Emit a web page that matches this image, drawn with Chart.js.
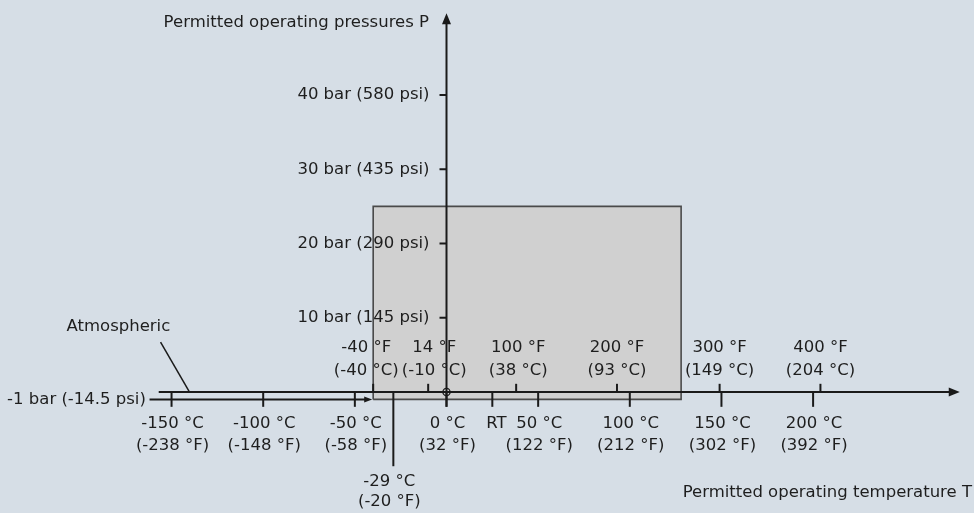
<!DOCTYPE html>
<html>
<head>
<meta charset="utf-8">
<script src="https://cdn.jsdelivr.net/npm/chart.js@4.4.0/dist/chart.umd.min.js"></script>
<style>
  html, body { margin: 0; padding: 0; background: #d6dee6; }
  canvas { display: block; }
</style>
</head>
<body>
<canvas id="myChart" width="974" height="513"></canvas>
<script>
// permitted operating range (°C / bar)
const rangeTemp = [-40, 128]
const rangePressure = [-1, 25]

// pressure axis ticks
const pressureTicks = [10, 20, 30, 40]
const pressureLabels = ['10 bar (145 psi)', '20 bar (290 psi)', '30 bar (435 psi)', '40 bar (580 psi)']

// temperature ticks in °C, below the axis
const celsiusTicks = [-150, -100, -50, 0, 50, 100, 150, 200]
const celsiusLabels = ['-150 °C', '-100 °C', '-50 °C', '0 °C', '50 °C', '100 °C', '150 °C', '200 °C']
const celsiusSubLabels = ['(-238 °F)', '(-148 °F)', '(-58 °F)', '(32 °F)', '(122 °F)', '(212 °F)', '(302 °F)', '(392 °F)']

// fahrenheit ticks, placed at their °C value, above the axis
const fahrenheitTicks = [-40, -10, 38, 93, 149, 204]
const fahrenheitLabels = ['-40 °F', '14 °F', '100 °F', '200 °F', '300 °F', '400 °F']
const fahrenheitSubLabels = ['(-40 °C)', '(-10 °C)', '(38 °C)', '(93 °C)', '(149 °C)', '(204 °C)']

// special marks
const roomTemp = 25
const minTemp = -29
const minTempLabels = ['-29 °C', '(-20 °F)']
const atmPressure = -1

const FONT = '16.5px "DejaVu Sans"'
const INK = '#1a1a1a'
const TEXT = '#1e1e1e'

// shaded permitted range, under the outline dataset
const rangeFill = {
  id: 'rangeFill',
  beforeDatasetsDraw(chart) {
    const {ctx, scales: {x, y}} = chart
    const left = x.getPixelForValue(rangeTemp[0])
    const right = x.getPixelForValue(rangeTemp[1])
    const top = y.getPixelForValue(rangePressure[1])
    const bottom = y.getPixelForValue(rangePressure[0])
    ctx.save()
    ctx.fillStyle = '#d0d0d0'
    ctx.fillRect(left, top, right - left, bottom - top)
    ctx.restore()
  }
}

// draws axes, ticks and all the texts from the scales
const diagram = {
  id: 'diagram',
  afterDatasetsDraw(chart) {
    const {ctx, scales: {x, y}} = chart
    const px = v => x.getPixelForValue(v)
    const py = v => y.getPixelForValue(v)

    const line = (x1, y1, x2, y2) => {
      ctx.beginPath()
      ctx.moveTo(x1, y1)
      ctx.lineTo(x2, y2)
      ctx.stroke()
    }
    const tri = pts => {
      ctx.beginPath()
      ctx.moveTo(pts[0], pts[1])
      ctx.lineTo(pts[2], pts[3])
      ctx.lineTo(pts[4], pts[5])
      ctx.closePath()
      ctx.fill()
    }
    const text = (s, tx, ty, align) => {
      ctx.textAlign = align || 'center'
      ctx.fillText(s, tx, ty)
    }

    ctx.save()
    ctx.strokeStyle = INK
    ctx.fillStyle = INK
    ctx.lineWidth = 2

    const x0 = px(0), y0 = py(0)

    // temperature axis (0 bar) with arrow
    const xEnd = px(280)
    line(px(-157), y0, xEnd - 6, y0)
    tri([xEnd, y0, xEnd - 11, y0 - 4.5, xEnd - 11, y0 + 4.5])

    // -1 bar line running up to the range
    const yAtm = py(atmPressure)
    const xTip = px(rangeTemp[0]) - 1
    line(px(-162), yAtm, xTip - 5, yAtm)
    tri([xTip, yAtm, xTip - 8, yAtm - 3, xTip - 8, yAtm + 3])

    // pressure axis with arrow
    const yTop = py(51)
    line(x0, py(-2), x0, yTop + 6)
    tri([x0, yTop, x0 - 4.5, yTop + 11, x0 + 4.5, yTop + 11])

    // pressure ticks
    pressureTicks.forEach(p => line(x0 - 7, py(p), x0, py(p)))

    // °C ticks below
    celsiusTicks.forEach(t => line(px(t), y0, px(t), py(-2)))
    line(px(roomTemp), y0, px(roomTemp), py(-2))
    line(px(minTemp), y0, px(minTemp), py(-10))

    // °F ticks above
    fahrenheitTicks.forEach(t => line(px(t), py(1.1), px(t), y0))

    // origin marker
    ctx.lineWidth = 1.3
    ctx.beginPath()
    ctx.arc(x0, y0, 3.6, 0, Math.PI * 2)
    ctx.stroke()

    // leader for "Atmospheric"
    ctx.lineWidth = 1.5
    line(px(-156), py(6.7), px(-140.5), py(0.1))

    // texts
    ctx.font = FONT
    ctx.textBaseline = 'middle'
    ctx.fillStyle = TEXT
    pressureTicks.forEach((p, i) => text(pressureLabels[i], x0 - 17, py(p), 'right'))

    celsiusTicks.forEach((t, i) => {
      text(celsiusLabels[i], px(t) + 1, 424)
      text(celsiusSubLabels[i], px(t) + 1, 446)
    })
    text('RT', px(roomTemp) + 4, 424)
    text(minTempLabels[0], px(minTemp) - 4, 482)
    text(minTempLabels[1], px(minTemp) - 4, 502)

    const fShift = [-7, 6, 2, 0, 0, 0]
    fahrenheitTicks.forEach((t, i) => {
      text(fahrenheitLabels[i], px(t) + fShift[i], 348)
      text(fahrenheitSubLabels[i], px(t) + fShift[i], 370.5)
    })

    text('-1 bar (-14.5 psi)', px(-164), yAtm, 'right')
    text('Atmospheric', px(-179), py(8.75))

    text('Permitted operating pressures P', 429, 23, 'right')
    text('Permitted operating temperature T', 972, 493, 'right')

    ctx.restore()
  }
}

const ctx = document.getElementById('myChart').getContext('2d')

const myChart = new Chart(ctx, {
  type: 'line',
  data: {
    datasets: [{
      label: 'permitted range',
      data: [
        {x: rangeTemp[0], y: rangePressure[0]},
        {x: rangeTemp[0], y: rangePressure[1]},
        {x: rangeTemp[1], y: rangePressure[1]},
        {x: rangeTemp[1], y: rangePressure[0]},
        {x: rangeTemp[0], y: rangePressure[0]}
      ],
      fill: false,
      borderColor: '#4a4a4a',
      borderWidth: 1.6,
      pointRadius: 0
    }]
  },
  options: {
    responsive: false,
    animation: false,
    layout: {padding: {left: 79.9, right: 69.25, top: 20.75, bottom: 83.9}},
    scales: {
      x: {type: 'linear', min: -200, max: 250, display: false},
      y: {type: 'linear', min: -5, max: 50, display: false}
    },
    plugins: {
      legend: {display: false},
      tooltip: {enabled: false}
    }
  },
  plugins: [rangeFill, diagram]
})
</script>
</body>
</html>
